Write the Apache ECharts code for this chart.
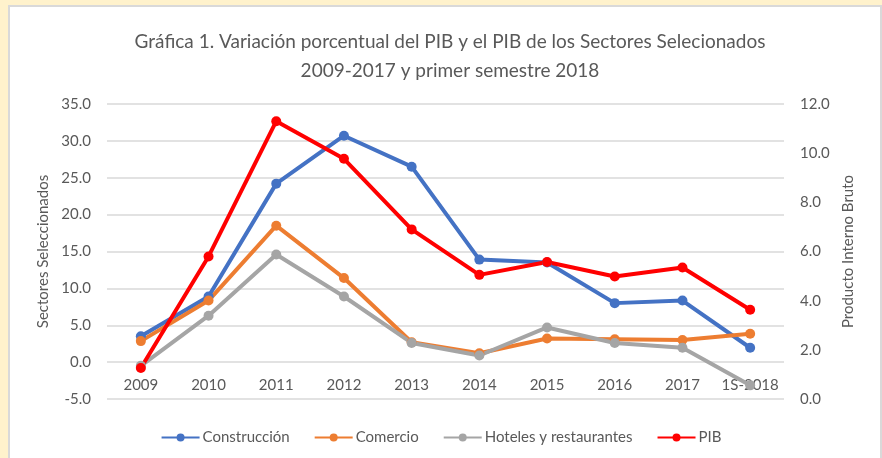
<!DOCTYPE html>
<html>
<head>
<meta charset="utf-8">
<script src="https://cdn.jsdelivr.net/npm/echarts@6/dist/echarts.min.js"></script>
<style>
html,body{margin:0;padding:0;width:882px;height:458px;overflow:hidden;background:#FFF2CC;}
#card{position:absolute;left:8px;top:5px;width:870px;height:460px;background:#fff;border:2px solid #D9D9D9;}
#chart{position:absolute;left:0;top:0;width:882px;height:458px;}
</style>
</head>
<body>
<div id="card"></div>
<div id="chart"></div>
<script>
var categories = ['2009','2010','2011','2012','2013','2014','2015','2016','2017','1S-2018'];
var construccion = [3.5, 8.9, 24.2, 30.7, 26.5, 13.9, 13.5, 8.0, 8.35, 1.95];
var comercio = [2.85, 8.35, 18.5, 11.4, 2.7, 1.2, 3.2, 3.1, 3.0, 3.85];
var hoteles = [-0.5, 6.3, 14.6, 8.9, 2.6, 0.9, 4.7, 2.6, 1.95, -3.15];
var pib = [1.26, 5.8, 11.3, 9.77, 6.9, 5.05, 5.57, 4.98, 5.35, 3.63];
var leftTicks = [-5, 35, 5];
var rightTicks = [0, 12, 2];

var FONT = 'Lato';
var TXT = '#595959';
function mk(name, data, color, axis){
  return {
    name: name, type: 'line', data: data, yAxisIndex: axis,
    symbol: 'circle', symbolSize: 10,
    lineStyle: {width: 4, color: color},
    itemStyle: {color: color},
    emphasis: {disabled: true}
  };
}
var chart = echarts.init(document.getElementById('chart'));
chart.setOption({
  animation: false,
  textStyle: {fontFamily: FONT},
  title: {
    text: 'Gráfica 1. Variación porcentual del PIB y el PIB de los Sectores Selecionados\n2009-2017 y primer semestre 2018',
    left: 445, top: 22, textAlign: 'center',
    textStyle: {fontFamily: FONT, fontSize: 19, fontWeight: 'normal', color: TXT, lineHeight: 29}
  },
  legend: {
    bottom: 8, left: 'center', itemWidth: 38, itemHeight: 10, itemGap: 24,
    textStyle: {fontFamily: FONT, fontSize: 15, color: TXT, padding: [0,0,0,-2]},
    data: ['Construcción','Comercio','Hoteles y restaurantes','PIB']
  },
  grid: {left: 107, right: 98, top: 104, bottom: 59},
  xAxis: {
    type: 'category', data: categories, boundaryGap: true,
    axisLine: {show: false},
    axisTick: {show: false},
    axisLabel: {fontFamily: FONT, fontSize: 15, color: TXT, margin: -21, interval: 0}
  },
  yAxis: [{
    type: 'value', min: leftTicks[0], max: leftTicks[1], interval: leftTicks[2],
    name: 'Sectores Seleccionados', nameLocation: 'middle', nameGap: 52,
    nameTextStyle: {fontFamily: FONT, fontSize: 15, color: TXT},
    axisLine: {show: false}, axisTick: {show: false},
    axisLabel: {fontFamily: FONT, fontSize: 15, color: TXT, margin: 16, formatter: function(v){return v.toFixed(1);}},
    splitLine: {lineStyle: {color: '#D9D9D9', width: 1.5}}
  },{
    type: 'value', min: rightTicks[0], max: rightTicks[1], interval: rightTicks[2],
    name: 'Producto Interno Bruto', nameLocation: 'middle', nameGap: 56,
    nameTextStyle: {fontFamily: FONT, fontSize: 15, color: TXT},
    axisLine: {show: false}, axisTick: {show: false},
    axisLabel: {fontFamily: FONT, fontSize: 15, color: TXT, margin: 16, formatter: function(v){return v.toFixed(1);}},
    splitLine: {show: false}
  }],
  series: [
    mk('Construcción', construccion, '#4472C4', 0),
    mk('Comercio', comercio, '#ED7D31', 0),
    mk('Hoteles y restaurantes', hoteles, '#A5A5A5', 0),
    mk('PIB', pib, '#FF0000', 1)
  ]
});
</script>
</body>
</html>
